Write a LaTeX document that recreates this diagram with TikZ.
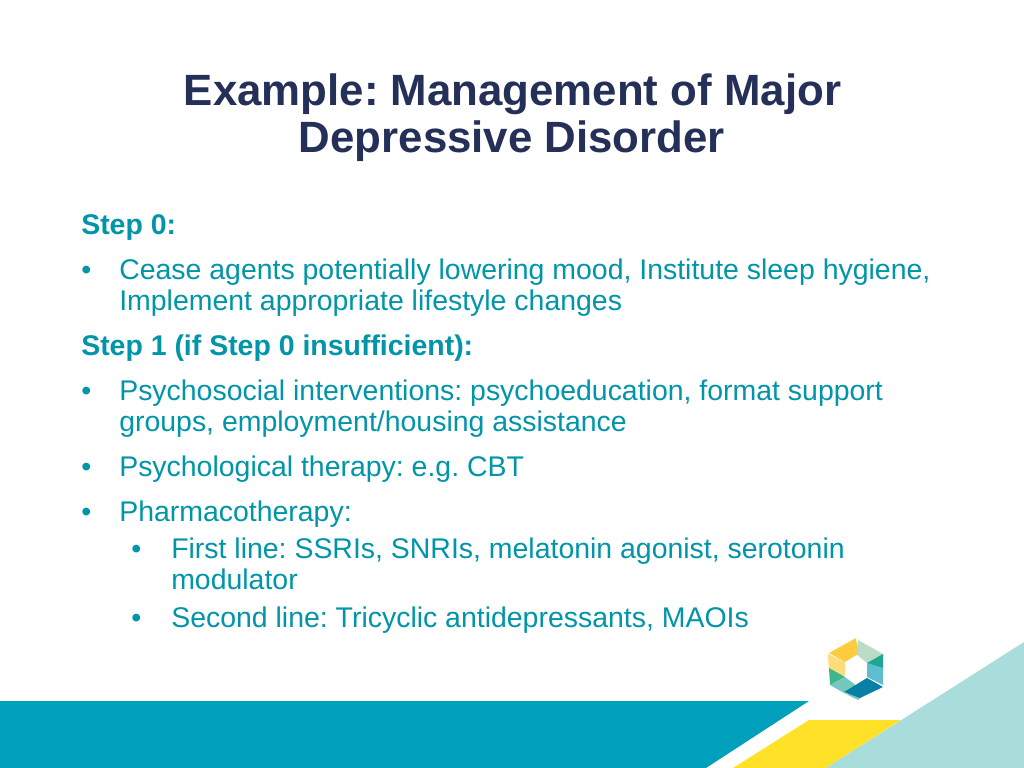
\documentclass[tikz,border=0pt]{standalone}
\usepackage{fontspec}
\setmainfont{Liberation Sans}
\frenchspacing
\definecolor{titleblue}{HTML}{253058}
\definecolor{bodyteal}{HTML}{0095A8}
\definecolor{band}{HTML}{00A0BC}
\definecolor{sun}{HTML}{FFE228}
\definecolor{pale}{HTML}{A9DDDC}
\definecolor{lgA}{HTML}{FFCB3F}
\definecolor{lgB}{HTML}{FEDD78}
\definecolor{lgC}{HTML}{BBDDC8}
\definecolor{lgD}{HTML}{1FA88F}
\definecolor{lgE}{HTML}{5FBDD0}
\definecolor{lgF}{HTML}{0A7FA6}
\definecolor{lgG}{HTML}{74C9BC}
\definecolor{lgH}{HTML}{3DB58F}
\tikzset{
  titletext/.style={anchor=base,font=\fontsize{30.8}{36}\selectfont\bfseries,text=titleblue,inner sep=0pt},
  head/.style={anchor=base west,font=\fontsize{20}{24}\selectfont\bfseries,text=bodyteal,inner sep=0pt},
  body/.style={anchor=base west,font=\fontsize{20}{24}\selectfont,text=bodyteal,inner sep=0pt},
}
\begin{document}
\begin{tikzpicture}[x=0.703125pt,y=-0.703125pt]
\useasboundingbox (0,0) rectangle (1024,768);
\fill[white] (0,0) rectangle (1024,768);
% bottom bands
\fill[band] (0,701) -- (809,701) -- (706,768) -- (0,768) -- cycle;
\fill[sun] (809,720) -- (901,720) -- (826,768) -- (733,768) -- cycle;
\fill[pale] (1024,642) -- (1024,768) -- (826,768) -- cycle;
% logo
\fill[lgC] (858,640) -- (883,654) -- (883,658) -- (867,663) -- (856,654) -- cycle;
\fill[lgD] (883,654) -- (883,670) -- (867,663) -- cycle;
\fill[lgE] (867,663) -- (883,668) -- (883,685) -- (867,677) -- cycle;
\fill[lgA] (829,653) -- (856,638) -- (858,654) -- (845,662) -- cycle;
\fill[lgB] (828,654) -- (845,662) -- (845,676) -- (829,673) -- cycle;
\fill[lgH] (829,668) -- (845,677) -- (830,685) -- cycle;
\fill[lgG] (830,685) -- (845,677) -- (857,686) -- (844,693) -- cycle;
\fill[lgG] (844,693) -- (858,700) -- (862,696) -- cycle;
\fill[lgF] (844,692) -- (867,678) -- (883,687) -- (860,698) -- cycle;
% title
\node[titletext] (t1) at (512.5,106) {Example: Management of Major};
\node[titletext] (t2) at (512,153) {Depressive Disorder};
% body
\node[head] (s0) at (81,234.5) {Step 0:};
\node[body] (b1) at (81,279.5) {•};
\node[body] (l1) at (119,279.5) {Cease agents potentially lowering mood, Institute sleep hygiene,};
\node[body] (l2) at (119,310.5) {Implement appropriate lifestyle changes};
\node[head] (s1) at (81,355.5) {Step 1 (if Step 0 insufficient):};
\node[body] (b2) at (81,400) {•};
\node[body] (l3) at (119,400) {Psychosocial interventions: psychoeducation, format support};
\node[body] (l4) at (119,431) {groups, employment/housing assistance};
\node[body] (b3) at (81,476) {•};
\node[body] (l5) at (119,476) {Psychological therapy: e.g. CBT};
\node[body] (b4) at (81,521) {•};
\node[body] (l6) at (119,521) {Pharmacotherapy:};
\node[body] (b5) at (131,558) {•};
\node[body] (l7) at (171,558) {First line: SSRIs, SNRIs, melatonin agonist, serotonin};
\node[body] (l8) at (171,589) {modulator};
\node[body] (b6) at (131,627) {•};
\node[body] (l9) at (171,627) {Second line: Tricyclic antidepressants, MAOIs};
\end{tikzpicture}
\end{document}
